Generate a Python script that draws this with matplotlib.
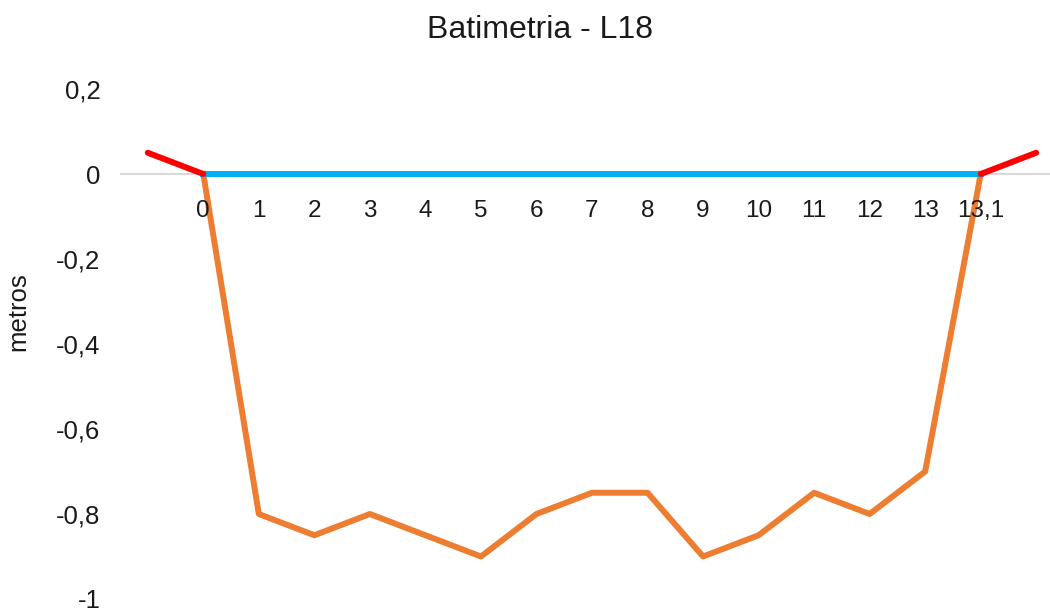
import matplotlib
matplotlib.use("Agg")
import matplotlib.pyplot as plt
import numpy as np

plt.rcParams['font.family'] = ['Liberation Sans', 'DejaVu Sans']

# Data
categories = ['', '0', '1', '2', '3', '4', '5', '6', '7', '8', '9', '10', '11', '12', '13', '13,1', '']
fundo = [np.nan, 0, -0.8, -0.85, -0.8, -0.85, -0.9, -0.8, -0.75, -0.75, -0.9, -0.85, -0.75, -0.8, -0.7, 0, np.nan]
lamina = [np.nan, 0, 0, 0, 0, 0, 0, 0, 0, 0, 0, 0, 0, 0, 0, 0, np.nan]
margem_esq = [0.05, 0] + [np.nan] * 15
margem_dir = [np.nan] * 15 + [0, 0.05]
y_ticks = [0.2, 0, -0.2, -0.4, -0.6, -0.8, -1]

x = np.arange(len(categories))

fig = plt.figure(figsize=(10.5, 6.08), dpi=100)
ax = fig.add_axes([120 / 1050, 9 / 608, 944 / 1050, 510 / 608])

# axis line at zero
ax.axhline(0, color='#d9d9d9', lw=1.5, zorder=1)

ax.plot(x, fundo, color='#ed7d31', lw=4.3, solid_joinstyle='round', zorder=2)
ax.plot(x, lamina, color='#00b0f0', lw=4.3, zorder=3)
ax.plot(x, margem_esq, color='#ff0000', lw=4.3, solid_capstyle='round', zorder=4)
ax.plot(x, margem_dir, color='#ff0000', lw=4.3, solid_capstyle='round', zorder=4)

ax.set_xlim(-0.5, len(categories) - 0.5)
ax.set_ylim(-1, 0.2)

# x labels just below the zero line
for i, lab in enumerate(categories):
    if lab:
        ax.annotate(lab, (i, 0), xytext=(0, -37), textcoords='offset pixels',
                    ha='center', va='center', fontsize=17.5, color='#1a1a1a')
ax.set_xticks([])

ax.set_yticks(y_ticks)
ax.set_yticklabels([('%g' % v).replace('.', ',') for v in y_ticks], fontsize=18.5, color='#1a1a1a')
ax.tick_params(axis='y', length=0, pad=14)

for s in ax.spines.values():
    s.set_visible(False)

fig.text(18 / 1050, 1 - 312 / 608, 'metros', rotation=90, ha='center', va='center',
         fontsize=18.5, color='#1a1a1a')
fig.text(540 / 1050, 1 - 30 / 608, 'Batimetria - L18', ha='center', va='center', fontsize=23, color='#1a1a1a')

fig.savefig('out.png', dpi=100)
